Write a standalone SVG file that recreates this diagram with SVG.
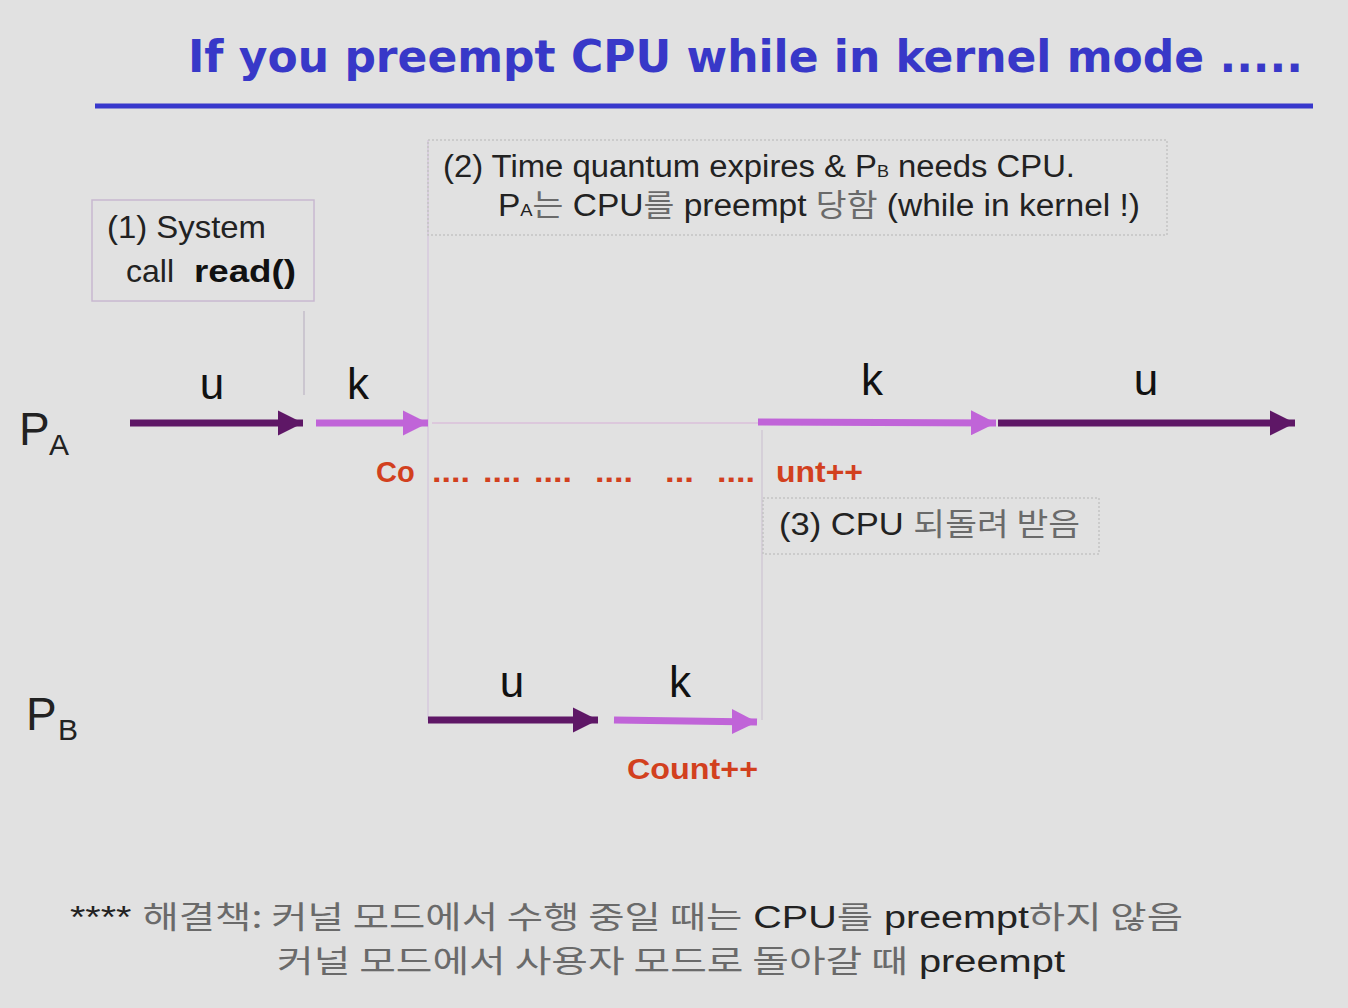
<svg xmlns="http://www.w3.org/2000/svg" width="1348" height="1008" viewBox="0 0 1348 1008">
<defs>
<style>
.t{font-family:"Liberation Sans","Noto Sans CJK KR",sans-serif;fill:#222}
.lbl{font-family:"Liberation Sans",sans-serif;font-size:44px;fill:#111;text-anchor:middle}
.red{font-family:"Liberation Sans",sans-serif;font-weight:bold;font-size:29px;fill:#d2401e}
.dots{font-family:"Liberation Sans",sans-serif;font-weight:bold;font-size:30px;fill:#d2401e}
.box{fill:none;stroke:#c8b8d0;stroke-width:1.5}
.dbox{fill:none;stroke:#c4c4c4;stroke-width:1.5;stroke-dasharray:2 2}
.dark{stroke:#5e1766;stroke-width:7}
.light{stroke:#c064d8;stroke-width:7}
.kor{font-family:"Noto Sans CJK KR",sans-serif;fill:#6a6a6a}
</style>
<marker id="hd" viewBox="0 0 10 10" refX="10" refY="5" markerWidth="3.6" markerHeight="3.6" markerUnits="strokeWidth" orient="auto"><path d="M0,0 L10,5 L0,10 z" fill="#5e1766"/></marker>
<marker id="hl" viewBox="0 0 10 10" refX="10" refY="5" markerWidth="3.6" markerHeight="3.6" markerUnits="strokeWidth" orient="auto"><path d="M0,0 L10,5 L0,10 z" fill="#c064d8"/></marker>
</defs>
<rect width="1348" height="1008" fill="#e1e1e1"/>
<g id="title">
<text x="188" y="72" font-family="DejaVu Sans,Verdana,sans-serif" font-weight="bold" font-size="44" fill="#3838c8" textLength="1115" lengthAdjust="spacingAndGlyphs">If you preempt CPU while in kernel mode .....</text>
<line x1="95" y1="106" x2="1313" y2="106" stroke="#3838cc" stroke-width="5"/>
</g>
<g id="connectors">
<line x1="304" y1="311" x2="304" y2="395" stroke="#bdb4c4" stroke-width="1.2"/>
<line x1="428" y1="140" x2="428" y2="720" stroke="#d6c8dc" stroke-width="1.5"/>
<line x1="762" y1="430" x2="762" y2="720" stroke="#d0c8d4" stroke-width="1.5"/>
<line x1="432" y1="423" x2="758" y2="423" stroke="#dcc8dc" stroke-width="2"/>
<line class="dark" x1="130" y1="423" x2="303" y2="423" marker-end="url(#hd)"/>
<line class="light" x1="316" y1="423" x2="428" y2="423" marker-end="url(#hl)"/>
<line class="light" x1="758" y1="422" x2="996" y2="423" marker-end="url(#hl)"/>
<line class="dark" x1="998" y1="423" x2="1295" y2="423" marker-end="url(#hd)"/>
<line class="dark" x1="428" y1="720" x2="598" y2="720" marker-end="url(#hd)"/>
<line class="light" x1="614" y1="720" x2="757" y2="722" marker-end="url(#hl)"/>
</g>
<g id="box1">
<rect class="box" x="92" y="200" width="222" height="101"/>
<text class="t" x="107" y="238" font-size="32" textLength="159" lengthAdjust="spacingAndGlyphs">(1) System</text>
<text class="t" x="126" y="282" font-size="32">call<tspan font-weight="bold" fill="#111" x="194" textLength="102" lengthAdjust="spacingAndGlyphs">read()</tspan></text>
</g>
<g id="box2">
<rect class="dbox" x="428" y="140" width="739" height="95"/>
<text class="t" x="443" y="177" font-size="31" textLength="632" lengthAdjust="spacingAndGlyphs">(2) Time quantum expires &amp; P<tspan font-size="17">B</tspan> needs CPU.</text>
<text class="t" x="498" y="216" font-size="31" textLength="642" lengthAdjust="spacingAndGlyphs">P<tspan font-size="17">A</tspan><tspan class="kor">는</tspan> CPU<tspan class="kor">를</tspan> preempt <tspan class="kor">당함</tspan> (while in kernel !)</text>
</g>
<g id="pa">
<text class="t" x="19" y="445" font-size="46" fill="#111">P</text>
<text class="t" x="49" y="455" font-size="30" fill="#111">A</text>
<text class="lbl" x="212" y="399">u</text>
<text class="lbl" x="358" y="399">k</text>
<text class="lbl" x="872" y="395">k</text>
<text class="lbl" x="1146" y="395">u</text>
<text class="red" x="376" y="482">Co</text>
<text class="dots" x="432" y="482" textLength="38" lengthAdjust="spacingAndGlyphs">....</text>
<text class="dots" x="483" y="482" textLength="38" lengthAdjust="spacingAndGlyphs">....</text>
<text class="dots" x="534" y="482" textLength="38" lengthAdjust="spacingAndGlyphs">....</text>
<text class="dots" x="595" y="482" textLength="38" lengthAdjust="spacingAndGlyphs">....</text>
<text class="dots" x="665" y="482" textLength="29" lengthAdjust="spacingAndGlyphs">...</text>
<text class="dots" x="717" y="482" textLength="38" lengthAdjust="spacingAndGlyphs">....</text>
<text class="red" x="776" y="482" textLength="87" lengthAdjust="spacingAndGlyphs">unt++</text>
</g>
<g id="box3">
<rect class="dbox" x="763" y="498" width="336" height="56"/>
<text class="t" x="779" y="535" font-size="31" textLength="301" lengthAdjust="spacingAndGlyphs">(3) CPU <tspan class="kor">되돌려 받음</tspan></text>
</g>
<g id="pb">
<text class="t" x="26" y="730" font-size="46" fill="#111">P</text>
<text class="t" x="58" y="740" font-size="30" fill="#111">B</text>
<text class="lbl" x="512" y="697">u</text>
<text class="lbl" x="680" y="697">k</text>
<text class="red" x="627" y="779" textLength="131" lengthAdjust="spacingAndGlyphs">Count++</text>
</g>
<g id="note">
<text class="t" x="70" y="928" font-size="31" textLength="1113" lengthAdjust="spacingAndGlyphs">**** <tspan class="kor">해결책: 커널 모드에서 수행 중일 때는</tspan> CPU<tspan class="kor">를</tspan> preempt<tspan class="kor">하지 않음</tspan></text>
<text class="t" x="277" y="972" font-size="31" textLength="788" lengthAdjust="spacingAndGlyphs"><tspan class="kor">커널 모드에서 사용자 모드로 돌아갈 때</tspan> preempt</text>
</g>
</svg>
